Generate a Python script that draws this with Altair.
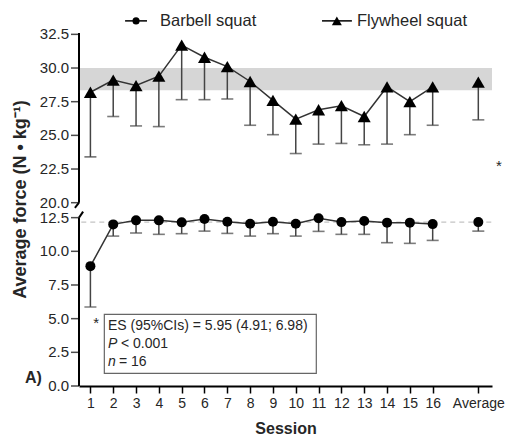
import altair as alt
import pandas as pd

# ---------------- data ----------------
sessions = list(range(1, 17))
avg_pos = 18  # x slot used for the "Average" category

fly_mean = [28.2, 29.1, 28.7, 29.4, 31.7, 30.8, 30.1, 29.0, 27.6, 26.2, 26.9, 27.2, 26.4, 28.6, 27.5, 28.6]
fly_low = [23.4, 26.4, 25.7, 25.65, 27.65, 27.65, 27.7, 25.75, 25.05, 23.65, 24.35, 24.4, 24.3, 24.35, 25.05, 25.75]
fly_avg_mean = 28.95
fly_avg_low = 26.15

bar_mean = [8.9, 12.0, 12.3, 12.3, 12.15, 12.4, 12.2, 12.05, 12.2, 12.05, 12.45, 12.17, 12.25, 12.13, 12.13, 12.02]
bar_low = [5.87, 11.13, 11.36, 11.26, 11.31, 11.5, 11.33, 11.13, 11.31, 11.13, 11.48, 11.26, 11.26, 10.64, 10.59, 10.81]
bar_avg_mean = 12.17
bar_avg_low = 11.5

band_range = [28.35, 30.0]
ref_level = 12.17

low_ticks = [0, 2.5, 5, 7.5, 10, 12.5]
high_ticks = [20, 22.5, 25, 27.5, 30, 32.5]
x_ticks = sessions + [avg_pos]

series_names = ["Barbell squat", "Flywheel squat"]
stats_lines = ["ES (95%CIs) = 5.95 (4.91; 6.98)", "P", "< 0.001", "n", "= 16"]

# broken axis: values of the upper segment are drawn shifted down by GAP
GAP = 6.39
TOP = 32.6


def up(v):
    return v - GAP


# ---------------- tables ----------------
rows = []
for s, m, l in zip(sessions, fly_mean, fly_low):
    rows.append(dict(x=s, mean=up(m), low=up(l), series="Flywheel squat", kind="session"))
rows.append(dict(x=avg_pos, mean=up(fly_avg_mean), low=up(fly_avg_low), series="Flywheel squat", kind="avg"))
for s, m, l in zip(sessions, bar_mean, bar_low):
    rows.append(dict(x=s, mean=m, low=l, series="Barbell squat", kind="session"))
rows.append(dict(x=avg_pos, mean=bar_avg_mean, low=bar_avg_low, series="Barbell squat", kind="avg"))
pts = pd.DataFrame(rows)
line_df = pts[pts["kind"] == "session"]

ytick_df = pd.DataFrame({
    "x": [0.5] * (len(low_ticks) + len(high_ticks)),
    "y": low_ticks + [up(v) for v in high_ticks],
    "lab": [f"{v:.1f}" for v in low_ticks + high_ticks],
})

FONT = "Liberation Sans"
INK = "#262626"

xscale = alt.Scale(domain=[0.5, 18.6], nice=False, zero=False)
yscale = alt.Scale(domain=[0, up(TOP)], nice=False, zero=False)

xaxis = alt.Axis(values=x_ticks, labelExpr="datum.value == 18 ? 'Average' : format(datum.value, 'd')",
                 grid=False, domainColor="black", domainWidth=2, tickColor="black", tickWidth=1.5,
                 tickSize=7, labelFontSize=14, labelColor=INK, labelPadding=3, labelFont=FONT,
                 title="Session", titleFontSize=16, titleFontWeight="bold", titleFont=FONT, titleColor=INK,
                 titleY=42, titleBaseline="middle", labelFlush=False, labelOverlap=False)
yaxis = alt.Axis(labels=False, ticks=False, grid=False, domain=False,
                 title="Average force (N • kg⁻¹)", titleFontSize=18, titleFontWeight="bold", titleFont=FONT,
                 titleColor=INK, titleX=-59, titleY=166, titleAngle=270, titleAlign="center",
                 titleBaseline="middle")


def X(field="x"):
    return alt.X(f"{field}:Q", scale=xscale, axis=xaxis)


def Y(field):
    return alt.Y(f"{field}:Q", scale=yscale, axis=yaxis)


# grey band
band = alt.Chart(pd.DataFrame({"x": [0.5], "x2": [18.6], "y": [up(band_range[0])], "y2": [up(band_range[1])]})
                 ).mark_rect(color="#d6d6d6").encode(x=X(), x2="x2:Q", y=Y("y"), y2="y2:Q")

# dashed reference line
ref = alt.Chart(pd.DataFrame({"x": [0.6], "x2": [18.6], "y": [ref_level]})).mark_rule(
    color="#c4c4c4", strokeDash=[5, 4], strokeWidth=1.3).encode(x=X(), x2="x2:Q", y=Y("y"))

# y axis segments and break marks
axis_segs = pd.DataFrame({
    "x": [0.5, 0.5, 0.5, 0.5],
    "x2": [0.5, 0.68, 0.5, 0.32],
    "y": [0, 12.5, up(20.0), up(20.0)],
    "y2": [12.5, 12.95, up(TOP), up(20.0) - 0.38],
})
axis_rules = alt.Chart(axis_segs).mark_rule(color="black", strokeWidth=2).encode(
    x=X(), x2="x2:Q", y=Y("y"), y2="y2:Q")

# y axis ticks and labels (both segments)
y_ticks_mark = alt.Chart(ytick_df).mark_tick(orient="horizontal", color="black", size=8, thickness=1.5,
                                             xOffset=-4).encode(x=X(), y=Y("y"))
y_labels = alt.Chart(ytick_df).mark_text(align="right", baseline="middle", fontSize=15, font=FONT, color=INK,
                                         dx=-10).encode(x=X(), y=Y("y"), text="lab:N")

# error bars (downward)
err = alt.Chart(pts).mark_rule(color="#444444", strokeWidth=1.5).encode(x=X(), y=Y("low"), y2="mean:Q")
caps = alt.Chart(pts).mark_tick(orient="horizontal", color="#444444", size=12, thickness=1.6).encode(
    x=X(), y=Y("low"))

lines = alt.Chart(line_df).mark_line(color="#333333", strokeWidth=1.5).encode(
    x=X(), y=Y("mean"), detail="series:N")

pts_bar = alt.Chart(pts[pts["series"] == "Barbell squat"]).mark_point(
    shape="circle", filled=True, color="black", size=100, opacity=1).encode(x=X(), y=Y("mean"))
pts_fly = alt.Chart(pts[pts["series"] == "Flywheel squat"]).mark_point(
    shape="triangle-up", filled=True, color="black", size=170, opacity=1).encode(x=X(), y=Y("mean"))

# legend (drawn through the scales above the plot)
leg = pd.DataFrame({
    "name": series_names,
    "x1": [2.52, 11.15],
    "x2": [3.48, 12.46],
    "xm": [3.0, 11.8],
    "xt": [4.05, 12.68],
    "y": [up(33.5), up(33.5)],
    "sym": ["circle", "triangle-up"],
})
leg_lines = alt.Chart(leg).mark_rule(color="black", strokeWidth=1.5).encode(x=X("x1"), x2="x2:Q", y=Y("y"))
leg_c = alt.Chart(leg[leg["sym"] == "circle"]).mark_point(shape="circle", filled=True, color="black", size=50,
                                                          opacity=1).encode(x=X("xm"), y=Y("y"))
leg_t = alt.Chart(leg[leg["sym"] == "triangle-up"]).mark_point(shape="triangle-up", filled=True, color="black",
                                                               size=100, opacity=1).encode(x=X("xm"), y=Y("y"))
leg_txt = alt.Chart(leg).mark_text(align="left", baseline="middle", fontSize=16.5, font=FONT, color=INK).encode(
    x=X("xt"), y=Y("y"), text="name:N")

# statistics box
box = alt.Chart(pd.DataFrame({"x": [1.61], "x2": [10.9], "y": [0.94], "y2": [5.32]})).mark_rect(
    fill="white", stroke="#666666", strokeWidth=1.2).encode(x=X(), x2="x2:Q", y=Y("y"), y2="y2:Q")
txt_df = pd.DataFrame({
    "t": stats_lines,
    "x": [1.77, 1.77, 1.77, 1.77, 1.77],
    "y": [4.45, 3.1, 3.1, 1.77, 1.77],
    "fs": ["normal", "italic", "normal", "italic", "normal"],
    "dx": [0, 0, 13, 0, 11],
})
box_txt = alt.layer(*[
    alt.Chart(txt_df.iloc[[i]]).mark_text(align="left", baseline="middle", fontSize=14, font=FONT, color=INK,
                                          fontStyle=txt_df["fs"].iloc[i], dx=int(txt_df["dx"].iloc[i])).encode(
        x=X(), y=Y("y"), text="t:N")
    for i in range(len(txt_df))
])

# asterisks and panel label
stars = alt.Chart(pd.DataFrame({"x": [1.25, 18.9], "y": [4.7, up(22.7)], "t": ["*", "*"]})).mark_text(
    fontSize=15, font=FONT, color=INK, baseline="middle").encode(x=X(), y=Y("y"), text="t:N")
panel = alt.Chart(pd.DataFrame({"x": [-1.5], "y": [0.6], "t": ["A)"]})).mark_text(
    fontSize=16, fontWeight="bold", font=FONT, color=INK, baseline="middle").encode(x=X(), y=Y("y"), text="t:N")

chart = alt.layer(
    band, ref, axis_rules, y_ticks_mark, y_labels, err, caps, lines, pts_bar, pts_fly,
    leg_lines, leg_c, leg_t, leg_txt, box, box_txt, stars, panel
).properties(
    width=413, height=353,
    autosize=alt.AutoSizeParams(type="none"),
    padding={"left": 79, "top": 33, "right": 16, "bottom": 53},
    background="white",
).configure_view(stroke=None)

chart.save("out.html", embed_options={"renderer": "svg", "actions": False})
